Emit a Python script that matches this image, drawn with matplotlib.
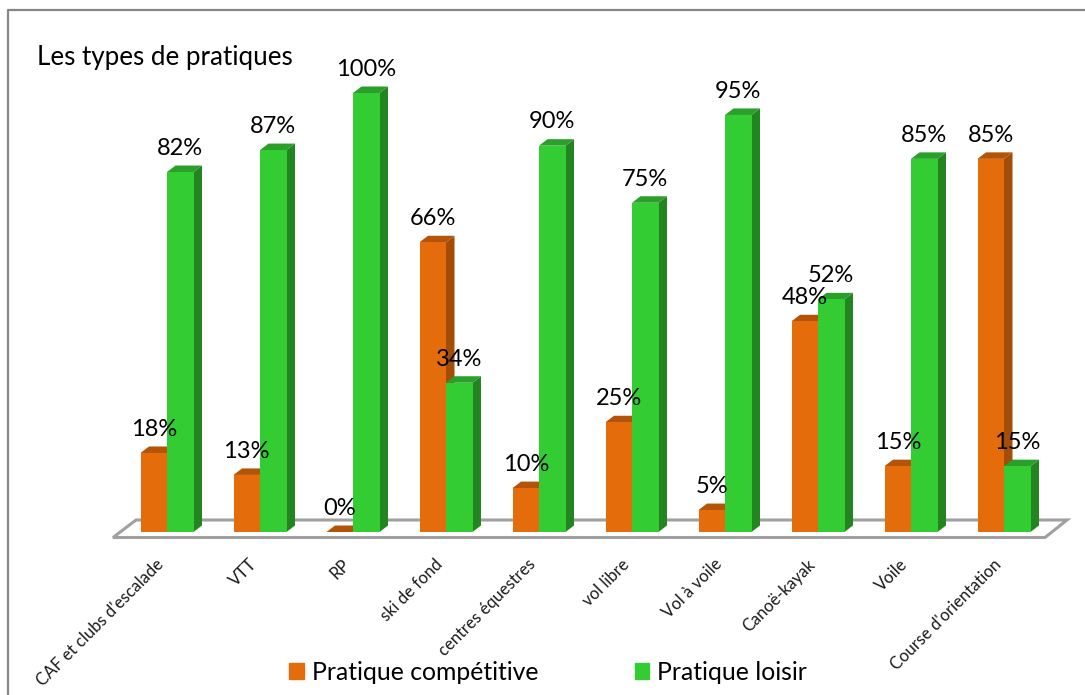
import matplotlib
matplotlib.use("Agg")
import matplotlib.pyplot as plt
from matplotlib.patches import Polygon, Patch
from matplotlib.lines import Line2D

plt.rcParams["font.family"] = ["Lato", "DejaVu Sans"]

categories = ["CAF et clubs d'escalade", "VTT", "RP", "ski de fond", "centres équestres",
              "vol libre", "Vol à voile", "Canoë-kayak", "Voile", "Course d'orientation"]
competitive = [18, 13, 0, 66, 10, 25, 5, 48, 15, 85]
leisure = [82, 87, 100, 34, 88, 75, 95, 53, 85, 15]
competitive_labels = ["18%", "13%", "0%", "66%", "10%", "25%", "5%", "48%", "15%", "85%"]
leisure_labels = ["82%", "87%", "100%", "34%", "90%", "75%", "95%", "52%", "85%", "15%"]

W, H = 1085, 695
STEP = 93.0       # px per category
PCT = 4.39        # px per percent
X0, Y0 = 167, 532 # px of first category centre / baseline
BW = 26.5 / STEP
DX = 8.5 / STEP
DY = 6.5 / PCT

fig = plt.figure(figsize=(W / 100, H / 100), dpi=100)
ax = fig.add_axes([0, 0, 1, 1])
ax.set_xlim(-X0 / STEP, (W - X0) / STEP)
ax.set_ylim((Y0 - H) / PCT, Y0 / PCT)
ax.axis("off")


def px(x, y):
    # pixel position in the picture -> data position
    return (x - X0) / STEP, (Y0 - y) / PCT


# outer frame, only left and top are inside the picture
fig.add_artist(Line2D([8 / W, 8 / W, 1], [0, 1 - 10 / H, 1 - 10 / H], color="#868686", lw=1.6))

# floor
floor = [px(113, 537.5), px(136, 520), px(1067, 520), px(1045, 537.5)]
ax.add_patch(Polygon(floor, closed=True, fc="white", ec="#a0a0a0", lw=2.2, zorder=1))


def bar3d(x, v, front, top, side, z):
    ax.bar(x, v, BW, align="edge", color=front, edgecolor="none", zorder=z + 0.2)
    ax.add_patch(Polygon([(x + BW, 0), (x + BW + DX, DY), (x + BW + DX, v + DY), (x + BW, v)],
                         fc=side, ec="none", zorder=z))
    ax.add_patch(Polygon([(x, v), (x + DX, v + DY), (x + BW + DX, v + DY), (x + BW, v)],
                         fc=top, ec="none", zorder=z + 0.1))


for i in range(len(categories)):
    bar3d(i - BW, competitive[i], "#E46C0A", "#B35409", "#A34D08", 2 + i)
    bar3d(i, leisure[i], "#33CC33", "#2A9F2A", "#23851F", 2.5 + i)
    ax.text(i - BW / 2, competitive[i] + 5.4, competitive_labels[i], ha="center", va="center",
            fontsize=17, color="black", zorder=30)
    ax.text(i + BW / 2, leisure[i] + 5.4, leisure_labels[i], ha="center", va="center",
            fontsize=17, color="black", zorder=30)
    ax.text(i - 0.12, -5.5, categories[i], rotation=45, rotation_mode="anchor", ha="right", va="top",
            fontsize=12, color="#1a1a1a", zorder=30)

tx, ty = px(37, 57)
ax.text(tx, ty, "Les types de pratiques", ha="left", va="center", fontsize=18.7, color="black")

handles = [Patch(color="#E46C0A", label="Pratique compétitive"), Patch(color="#33CC33", label="Pratique loisir")]
fig.legend(handles=handles, loc="center", bbox_to_anchor=(548 / W, 1 - 672 / H), ncol=2, frameon=False,
           fontsize=17.8, handlelength=0.6, handleheight=0.6, handletextpad=0.3, columnspacing=3.9,
           labelcolor="black")

fig.savefig("out.png", dpi=100)
